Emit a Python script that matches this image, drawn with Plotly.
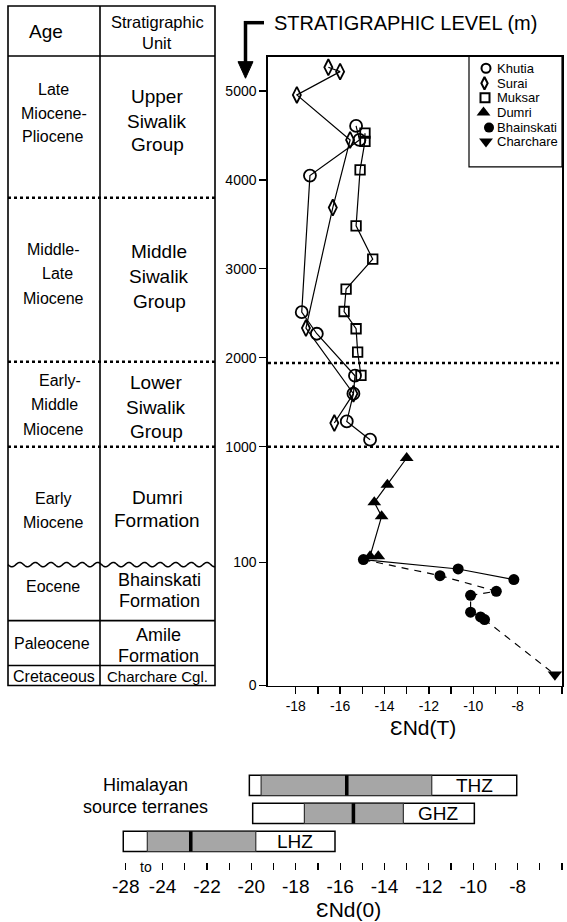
import numpy as np
import plotly.graph_objects as go

W, H = 567, 922
FIG_H = 930      # figure height in px
YS = 1.008       # vertical stretch of layout coordinates

# ---------------- data ----------------
khutia_end = [-15.28, -15.13, -17.36, -17.73, -17.05, -15.33, -15.40, -15.70, -14.65]
khutia_lvl = [4607, 4449, 4048, 2513, 2270, 1798, 1596, 1284, 1079]
surai_end = [-16.53, -16.00, -17.95, -15.55, -16.33, -17.54, -15.40, -16.26]
surai_lvl = [5266, 5217, 4955, 4449, 3689, 2334, 1596, 1266]
muksar_end = [-14.88, -14.88, -15.10, -15.28, -14.53, -15.73, -15.82, -15.28, -15.21, -15.06]
muksar_lvl = [4525, 4433, 4112, 3483, 3109, 2772, 2520, 2326, 2064, 1801]
dumri_end = [-13.00, -13.87, -14.46, -14.13, -14.65, -14.28]
dumri_lvl = [912, 704, 567, 458, 148, 148]
bhain_end = [-14.95, -10.68, -8.17, -11.50, -8.96, -10.12, -10.12, -9.67, -9.49]
bhain_lvl = [121, 94.6, 86, 89.2, 76.5, 73.2, 59.5, 55.7, 53.5]
charchare_end = [-6.32]
charchare_lvl = [8.9]

series_names = ["Khutia", "Surai", "Muksar", "Dumri", "Bhainskati", "Charchare"]
series_symbols = ["circle-open", "diamond-tall-open", "square-open", "triangle-up", "circle", "triangle-down"]
series_sizes = [12, 11.5, 9.5, 12, 11, 12.5]

level_ticks = [0, 100, 1000, 2000, 3000, 4000, 5000]
level_tick_text = ["0", "100", "1000", "2000", "3000", "4000", "5000"]
unit_boundaries = [1000, 1940]
end_ticks = list(range(-18, -5))
end_tick_text = [str(v) if v % 2 == 0 else "" for v in end_ticks]

terranes = ["THZ", "GHZ", "LHZ"]
terrane_row = [2, 1, 0]
outer_min = [-20.09, -19.94, -28.27]
outer_max = [-8.04, -9.95, -16.23]
core_min = [-19.56, -17.61, -25.66]
core_max = [-11.87, -13.15, -19.80]
median = [-15.70, -15.40, -22.73]
end0_ticks = [-28] + list(range(-24, -5))
end0_tick_text = ["-28"] + [str(v) if v % 2 == 0 else "" for v in range(-24, -5)]

age_labels = [["Late", "Miocene-", "Pliocene"], ["Middle-", "Late", "Miocene"],
              ["Early-", "Middle", "Miocene"], ["Early", "Miocene"], ["Eocene"],
              ["Paleocene"], ["Cretaceous"]]
unit_labels = [["Upper", "Siwalik", "Group"], ["Middle", "Siwalik", "Group"],
               ["Lower", "Siwalik", "Group"], ["Dumri", "Formation"],
               ["Bhainskati", "Formation"], ["Amile", "Formation"], ["Charchare Cgl."]]

# ---------------- scales ----------------
# level axis: piecewise linear (0-100, 100-1000, >1000 m), in px-like units
SEG = [1.233, 115.7 / 900, 0.089]
def lvl(v):
    v = np.asarray(v, float)
    return YS * np.where(v <= 100, v * SEG[0],
                         np.where(v <= 1000, 100 * SEG[0] + (v - 100) * SEG[1],
                                  100 * SEG[0] + 900 * SEG[1] + (v - 1000) * SEG[2]))

def brk(v):
    v = np.asarray(v, float)
    return np.where(v >= -24, v, -24 + (v + 24) * 0.415)

def px(x):
    return x / W

def py(y):
    return 1 - y * YS / FIG_H

FONT = "Liberation Sans, Arial, Helvetica, sans-serif"

fig = go.Figure()

def add_line(xs, ys, dash=None):
    fig.add_trace(go.Scatter(x=list(xs), y=list(lvl(ys)), mode="lines",
                             line=dict(color="black", width=1.2, dash=dash),
                             showlegend=False, hoverinfo="skip"))

add_line(khutia_end, khutia_lvl)
add_line(surai_end, surai_lvl)
add_line(muksar_end, muksar_lvl)
add_line(dumri_end[:5], dumri_lvl[:5])
add_line([bhain_end[i] for i in (0, 1, 2)], [bhain_lvl[i] for i in (0, 1, 2)])
idx = (0, 3, 4, 5, 6, 7, 8)
add_line([bhain_end[i] for i in idx] + charchare_end,
         [bhain_lvl[i] for i in idx] + charchare_lvl, dash="7px,6px")

all_x = [khutia_end, surai_end, muksar_end, dumri_end, bhain_end, charchare_end]
all_y = [khutia_lvl, surai_lvl, muksar_lvl, dumri_lvl, bhain_lvl, charchare_lvl]
for name, xs, ys, sym, sz in zip(series_names, all_x, all_y, series_symbols, series_sizes):
    fig.add_trace(go.Scatter(x=xs, y=list(lvl(ys)), mode="markers", name=name,
                             marker=dict(symbol=sym, size=sz, color="black",
                                         line=dict(color="black", width=1.8 if "open" in sym else 0)),
                             cliponaxis=False, showlegend=False))

# terrane bars
ob = brk(outer_min)
fig.add_trace(go.Bar(orientation="h", y=terrane_row, base=ob, x=brk(outer_max) - ob,
                     width=0.72, marker=dict(color="white", line=dict(color="black", width=1.5)),
                     xaxis="x2", yaxis="y2", showlegend=False, hoverinfo="skip"))
cb = brk(core_min)
fig.add_trace(go.Bar(orientation="h", y=terrane_row, base=cb, x=brk(core_max) - cb,
                     width=0.72, marker=dict(color="#a6a6a6", line=dict(color="#333", width=1.2)),
                     xaxis="x2", yaxis="y2", showlegend=False, hoverinfo="skip"))
fig.add_trace(go.Bar(orientation="h", y=terrane_row, base=brk(median) - 0.08,
                     x=[0.16] * 3, width=0.72, marker=dict(color="black", line=dict(width=0)),
                     xaxis="x2", yaxis="y2", showlegend=False, hoverinfo="skip"))

# legend (drawn on a pixel-space overlay axis)
leg_y = [68.3, 83.3, 97.7, 112.7, 127.7, 141.7]
leg_mx = [486, 484.5, 485, 483.5, 489, 486]
leg_sz = [9, 9, 9, 12, 10, 12]
for name, sym, y, mx, sz in zip(series_names, series_symbols, leg_y, leg_mx, leg_sz):
    fig.add_trace(go.Scatter(x=[mx], y=[y * YS], mode="markers", xaxis="x3", yaxis="y3",
                             marker=dict(symbol=sym, size=sz, color="black",
                                         line=dict(color="black", width=2 if "open" in sym else 0)),
                             showlegend=False, hoverinfo="skip", cliponaxis=False))

annotations = []
for name, r, cmx, omx in zip(terranes, terrane_row, core_max, outer_max):
    annotations.append(dict(x=float((brk(cmx) + brk(omx)) / 2), y=r, xref="x2", yref="y2",
                            text=name, showarrow=False, font=dict(size=19, color="black")))

def txt(t, x, y, s, anchor="center"):
    annotations.append(dict(x=px(x), y=py(y), xref="paper", yref="paper", text=t,
                            showarrow=False, xanchor=anchor, yanchor="middle",
                            font=dict(size=s, color="black")))

for name, y in zip(series_names, leg_y):
    txt(name, 495, y, 13, "left")

age_pos = [[(53, 89.3), (54, 113.3), (52, 136.7)], [(53, 249.3), (57, 273.3), (53, 298.3)],
           [(60, 380.7), (54, 405), (53, 429.3)], [(53, 499.3), (53, 523.3)], [(53, 587.3)],
           [(52, 644)], [(54, 676.7)]]
unit_pos = [[(157, 96.7), (157, 121.7), (157, 145)], [(159, 251.7), (159, 276.7), (159, 301.7)],
            [(156, 382.7), (156, 407.3), (156, 431.7)], [(157, 498.3), (157, 520.7)],
            [(159, 580), (159, 601.7)], [(158, 635), (158, 656.7)], [(157, 676.7)]]
unit_sizes = [19, 19, 19, 19, 18, 18, 15]

for lines, poss in zip(age_labels, age_pos):
    for t, (x, y) in zip(lines, poss):
        txt(t, x, y, 16)
for lines, poss, s in zip(unit_labels, unit_pos, unit_sizes):
    for t, (x, y) in zip(lines, poss):
        txt(t, x, y, s)
txt("Age", 46, 31.7, 19)
txt("Stratigraphic", 157, 21.7, 16.5)
txt("Unit", 157, 42.7, 16.5)
txt("STRATIGRAPHIC LEVEL (m)", 272, 22.7, 20, "left")
txt("ƐNd(T)", 423, 728, 21)
txt("ƐNd(0)", 348, 910, 21)
txt("Himalayan", 145, 785.7, 18)
txt("source terranes", 145.5, 807.7, 18)
txt("to", 146, 868, 14)

shapes = []
def pline(x0, y0, x1, y1, w=1.6, dash=None):
    shapes.append(dict(type="line", xref="paper", yref="paper", x0=px(x0), y0=py(y0),
                       x1=px(x1), y1=py(y1), line=dict(color="black", width=w, dash=dash)))

shapes.append(dict(type="rect", xref="paper", yref="paper", x0=px(8), x1=px(215),
                   y0=py(6), y1=py(686), line=dict(color="black", width=1.6)))
shapes.append(dict(type="rect", xref="paper", yref="paper", x0=px(469), x1=px(562),
                   y0=py(56), y1=py(167), line=dict(color="black", width=1.2)))
pline(100, 6, 100, 686)
pline(8, 56, 215, 56)
pline(8, 621, 215, 621)
pline(8, 666, 215, 666)
for yy in (198, 362, 447):
    pline(8, yy, 215, yy, 2.5, "3px,3px")
wx = np.linspace(8, 215, 200)
wy = 565 + 2.2 * np.sin((wx - 8) / 15.6 * 2 * np.pi)
path = "M " + " L ".join(f"{px(a):.5f},{py(b):.5f}" for a, b in zip(wx, wy))
shapes.append(dict(type="path", xref="paper", yref="paper", path=path,
                   line=dict(color="black", width=1.5)))
pline(244, 22.7, 264, 22.7, 3.5)
pline(245.5, 21, 245.5, 64, 3.5)
shapes.append(dict(type="path", xref="paper", yref="paper",
                   path=f"M {px(238)},{py(61.7)} L {px(253)},{py(61.7)} L {px(245.5)},{py(78.3)} Z",
                   fillcolor="black", line=dict(color="black", width=1)))
for b in unit_boundaries:
    yb = float(lvl(b))
    shapes.append(dict(type="line", xref="x domain", yref="y", x0=0, x1=1, y0=yb, y1=yb,
                       line=dict(color="black", width=2.5, dash="3px,3px")))

fig.update_layout(
    width=W, height=FIG_H, margin=dict(l=0, r=0, t=0, b=0),
    paper_bgcolor="white", plot_bgcolor="rgba(0,0,0,0)",
    font=dict(family=FONT, color="black"),
    barmode="overlay", showlegend=False,
    xaxis=dict(domain=[px(268), px(562)], range=[-19.25, -6.0], tickvals=end_ticks,
               ticktext=end_tick_text, ticks="outside", ticklen=7, tickwidth=1.3,
               tickcolor="black", showline=True, linecolor="black", linewidth=1.7,
               mirror=True, showgrid=False, zeroline=False, tickfont=dict(size=14),
               anchor="y"),
    yaxis=dict(domain=[py(686), py(57)], range=[0, 629 * YS], tickvals=list(lvl(level_ticks)),
               ticktext=level_tick_text, ticks="outside", ticklen=7, tickwidth=1.3,
               tickcolor="black", showline=True, linecolor="black", linewidth=1.7,
               mirror=True, showgrid=False, zeroline=False, tickfont=dict(size=14),
               anchor="x"),
    xaxis2=dict(domain=[px(110), px(562)], range=[-26.37, -6.0],
                tickvals=list(brk(end0_ticks)), ticktext=end0_tick_text, ticks="outside",
                ticklen=7, tickwidth=1.2, tickcolor="black", showline=False, showgrid=False,
                zeroline=False, tickfont=dict(size=19), anchor="y2"),
    yaxis2=dict(domain=[py(863), py(770)], range=[-0.75, 2.57], visible=False,
                anchor="x2"),
    xaxis3=dict(domain=[0, 1], range=[0, W], visible=False, anchor="y3"),
    yaxis3=dict(domain=[0, 1], range=[FIG_H, 0], visible=False, anchor="x3"),
    annotations=annotations, shapes=shapes,
)

fig.write_html("out.html", config={"displayModeBar": False, "staticPlot": True},
               post_script="document.body.style.margin='0';document.body.style.padding='0';"
                           "document.body.style.overflow='hidden';")
